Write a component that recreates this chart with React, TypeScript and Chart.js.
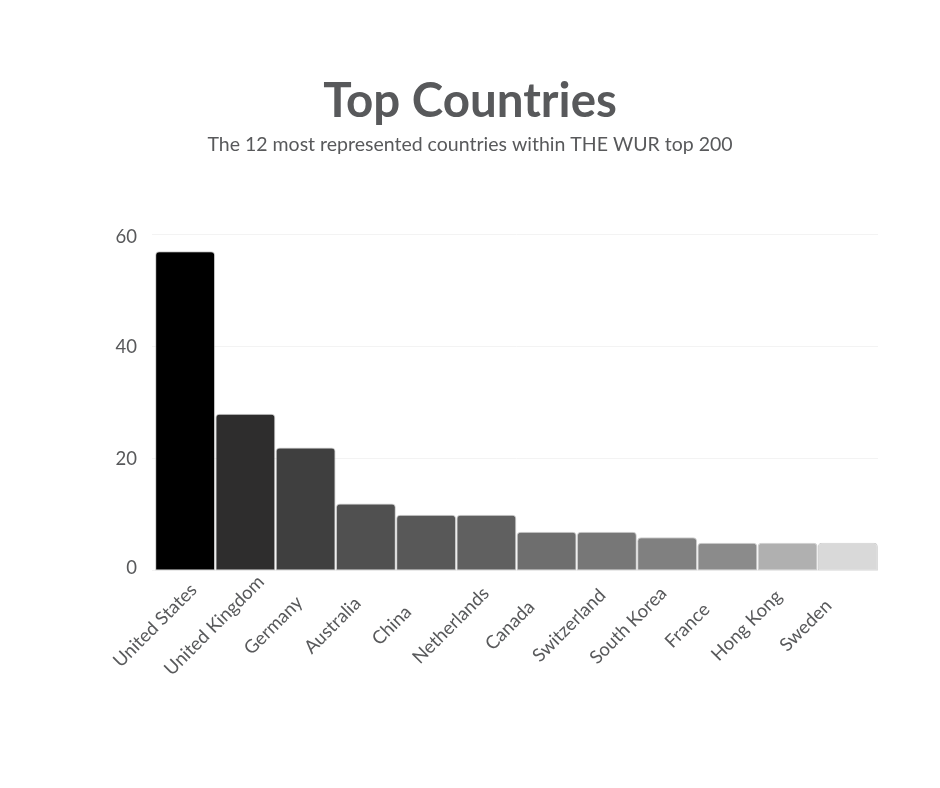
import React, { useEffect, useRef } from "react";
import { Chart, registerables } from "chart.js";

Chart.register(...registerables);

const countries = ["United States", "United Kingdom", "Germany", "Australia", "China", "Netherlands", "Canada", "Switzerland", "South Korea", "France", "Hong Kong", "Sweden"];
const counts = [57, 28, 22, 12, 10, 10, 7, 7, 6, 5, 5, 5];
const barColors = ["#000000", "#2e2d2d", "#3f3f3f", "#505050", "#585858", "#606060", "#6e6e6e", "#777777", "#808080", "#8b8b8b", "#b0b0b0", "#d9d9d9"];
const yTicks = [0, 20, 40, 60];
const yLabelNudge = [-3, 0, 0, 3];
const titleText = "Top Countries";
const subtitleText = "The 12 most represented countries within THE WUR top 200";
const textColor = "#58595b";

const centredLabels = {
  id: "centredLabels",
  beforeDraw(chart: any) {
    const x = chart.scales.x;
    x.getLabelItems().forEach((item: any, i: number) => {
      item.options.textAlign = "center";
      item.options.textBaseline = "middle";
      item.textOffset = 0;
      item.options.translation = [x.getPixelForTick(i) - 30 - 1.1 * i, 625.5];
    });
    const y = chart.scales.y;
    y.getLabelItems().forEach((item: any, i: number) => {
      item.options.translation = [item.options.translation[0], y.getPixelForTick(i) + yLabelNudge[i]];
    });
  },
};

export default function App() {
  const ref = useRef<HTMLCanvasElement>(null);
  useEffect(() => {
    const chart = new Chart(ref.current!, {
      type: "bar",
      data: {
        labels: countries,
        datasets: [{
          data: counts,
          backgroundColor: barColors,
          borderColor: "rgba(190,190,190,0.75)",
          borderWidth: 1,
          borderRadius: { topLeft: 4, topRight: 4, bottomLeft: 0, bottomRight: 0 },
          borderSkipped: false,
          barPercentage: 1,
          categoryPercentage: 0.995,
        }],
      },
      plugins: [centredLabels],
      options: {
        responsive: false,
        animation: false,
        layout: { padding: { top: 73, left: 62, right: 62, bottom: 86 } },
        plugins: {
          legend: { display: false },
          tooltip: { enabled: false },
          title: {
            display: true,
            text: titleText,
            color: textColor,
            font: { family: "Lato", size: 47.5, weight: "bold" },
            padding: { top: 0, bottom: 3 },
          },
          subtitle: {
            display: true,
            text: subtitleText,
            color: textColor,
            font: { family: "Lato", size: 19.5, weight: "normal" },
            padding: { top: 0, bottom: 78 },
          },
        },
        scales: {
          x: {
            grid: { display: false },
            border: { display: false },
            ticks: {
              color: textColor,
              font: { family: "Lato", size: 18.5 },
              minRotation: 45,
              maxRotation: 45,
              padding: 7,
            },
          },
          y: {
            min: 0,
            max: 60,
            afterBuildTicks: (axis) => { axis.ticks = yTicks.map((value) => ({ value })); },
            afterFit: (axis) => { axis.width = 93; },
            grid: { color: "#f3f3f3", lineWidth: 1, tickLength: 3 },
            border: { display: false },
            ticks: {
              color: textColor,
              font: { family: "Lato", size: 18.5 },
              padding: 15,
            },
          },
        },
      },
    });
    return () => chart.destroy();
  }, []);
  return (
    <div style={{ position: "fixed", left: 0, top: 0, width: 940, height: 788, background: "#fff" }}>
      <canvas ref={ref} width={940} height={788} style={{ display: "block" }} />
    </div>
  );
}
